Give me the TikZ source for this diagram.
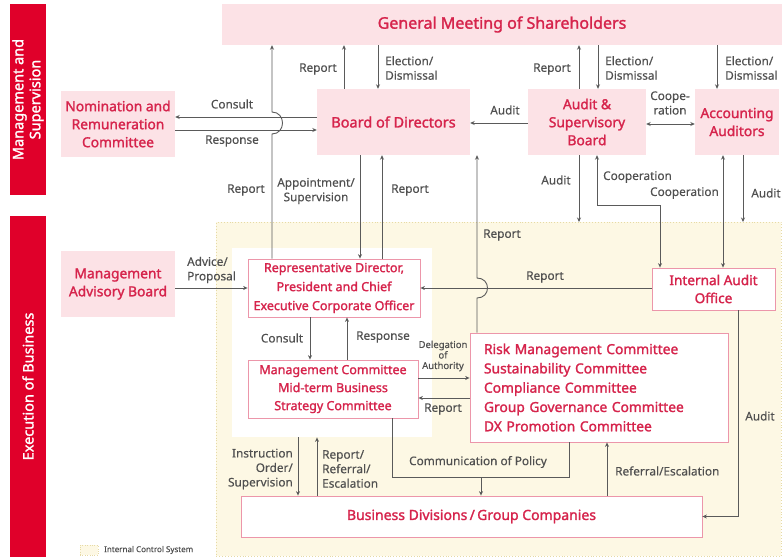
\documentclass[tikz,border=0pt]{standalone}
\usepackage{fontspec}
\setmainfont{Noto Sans}[AutoFakeBold=1.6]
\newfontfamily\lblfont{Noto Sans}[FakeBold=0.35]
\usetikzlibrary{arrows.meta}
\definecolor{barred}{RGB}{224,0,42}
\definecolor{pinkfill}{RGB}{252,226,230}
\definecolor{boxred}{RGB}{214,36,76}
\definecolor{pinkline}{RGB}{236,150,170}
\definecolor{lblgray}{RGB}{80,80,80}
\definecolor{linegray}{RGB}{90,90,90}
\definecolor{icsfill}{RGB}{253,248,228}
\definecolor{icsline}{RGB}{230,218,165}
\begin{document}
\begin{tikzpicture}[x=1pt,y=-1pt,
  bar/.style={fill=barred, text=white, font=\fontsize{14.5}{17}\selectfont\bfseries, align=center, inner sep=0pt, rotate=90},
  pinkbox/.style={fill=pinkfill, draw=none, text=boxred, font=\fontsize{13.8}{18}\selectfont\bfseries, align=center, inner sep=0pt},
  whitebox/.style={fill=white, draw=pinkline, line width=0.8pt, text=boxred, font=\fontsize{12.5}{19}\selectfont\bfseries, align=center, inner sep=0pt},
  lbl/.style={text=lblgray, font=\lblfont\fontsize{11.8}{14.5}\selectfont, inner sep=0pt, align=center},
  arr/.style={draw=linegray, line width=0.9pt, -{Stealth[length=4.5pt,width=4pt]}},
  darr/.style={draw=linegray, line width=0.9pt, {Stealth[length=4.5pt,width=4pt]}-{Stealth[length=4.5pt,width=4pt]}},
  ln/.style={draw=linegray, line width=0.9pt}]
\useasboundingbox (0,0) rectangle (782,557);
\fill[white] (0,0) rectangle (782,557);

% side bars
\node[bar, minimum width=191, minimum height=36] (barms) at (28,99.5) {Management and\\Supervision};
\node[bar, minimum width=341, minimum height=36] (bareb) at (28,386.5) {Execution of Business};

% internal control area
\node[draw=icsline, dotted, line width=0.9pt, fill=icsfill, minimum width=565, minimum height=334, inner sep=0pt, anchor=north west] (ics) at (216,222) {};
\node[fill=white, minimum width=200, minimum height=189, inner sep=0pt, anchor=north west] (wa) at (232,248) {};

% boxes
\node[pinkbox, minimum width=560, minimum height=41, font=\fontsize{16}{18}\selectfont\bfseries] (gm) at (502,24.5) {General Meeting of Shareholders};
\node[pinkbox, minimum width=114, minimum height=66] (nom) at (118,124) {Nomination and\\Remuneration\\Committee};
\node[pinkbox, minimum width=153, minimum height=66, font=\fontsize{14.5}{18}\selectfont\bfseries] (bod) at (393.5,122) {Board of Directors};
\node[pinkbox, minimum width=118, minimum height=66] (asb) at (587,122) {Audit \&\\Supervisory\\Board};
\node[pinkbox, minimum width=84, minimum height=66] (acc) at (737,122) {Accounting\\Auditors};
\node[pinkbox, minimum width=114, minimum height=66] (mab) at (118,284) {Management\\Advisory Board};

\node[whitebox, minimum width=172, minimum height=58] (rep) at (334,288) {Representative Director,\\President and Chief\\Executive Corporate Officer};
\node[whitebox, minimum width=170, minimum height=58, font=\fontsize{12.5}{18}\selectfont\bfseries] (mc) at (333,389) {Management Committee\\Mid-term Business\\Strategy Committee};
\node[whitebox, minimum height=109, text width=230pt, inner xsep=14pt, align=left, font=\fontsize{13.8}{19.3}\selectfont\bfseries] (risk) at (599,387.5) {Risk Management Committee\\Sustainability Committee\\Compliance Committee\\Group Governance Committee\\DX\,\,Promotion Committee};
\node[whitebox, minimum width=123, minimum height=42, font=\fontsize{13.6}{18}\selectfont\bfseries] (iao) at (713.5,289) {Internal Audit\\Office};
\node[whitebox, minimum width=461, minimum height=41, font=\fontsize{14}{18}\selectfont\bfseries] (bdg) at (471.5,516.5) {Business Divisions\,/\,Group Companies};

% legend
\node[fill=icsfill, draw=icsline, dotted, minimum width=18, minimum height=10, inner sep=0pt] (legsq) at (89,550) {};
\node[lbl, anchor=west, font=\lblfont\fontsize{8}{10}\selectfont] (legtx) at (104,550) {Internal Control System};

% --- connectors: top
\draw[arr] (rep.north -| 272,0) -- (272,134) .. controls (286,134) and (286,112) .. (272,112) -- (gm.south -| 272,0);
\node[lbl] (l1) at (246,190) {Report};
\draw[arr] (bod.north -| 344,0) -- (gm.south -| 344,0);
\node[lbl] (l2) at (318,69) {Report};
\draw[arr] (gm.south -| 378,0) -- (bod.north -| 378,0);
\node[lbl, anchor=west, align=left] (l3) at (385,68) {Election/\\Dismissal};

\draw[arr] (bod.west |- 0,117) -- (nom.east |- 0,117);
\node[lbl] (l4) at (232,104) {Consult};
\draw[arr] (nom.east |- 0,130) -- (bod.west |- 0,130);
\node[lbl] (l5) at (232,141) {Response};

\draw[arr] (bod.south -| 360,0) -- (rep.north -| 360,0);
\node[lbl] (l6) at (316,191) {Appointment/\\Supervision};
\draw[arr] (rep.north -| 382,0) -- (bod.south -| 382,0);
\node[lbl] (l7) at (410,190) {Report};

\draw[arr] (risk.north -| 477,0) -- (477,298) .. controls (491,298) and (491,278) .. (477,278) -- (bod.south -| 477,0);
\node[lbl] (l8) at (502,235) {Report};

\draw[arr] (asb.west |- 0,123) -- (bod.east |- 0,123);
\node[lbl] (l9) at (505,110) {Audit};
\draw[arr] (asb.north -| 579,0) -- (gm.south -| 579,0);
\node[lbl] (l10) at (552,69) {Report};
\draw[arr] (gm.south -| 598,0) -- (asb.north -| 598,0);
\node[lbl, anchor=west, align=left] (l11) at (605,68) {Election/\\Dismissal};
\draw[darr] (asb.east |- 0,124) -- (acc.west |- 0,124);
\node[lbl] (l12) at (670,103) {Coope-\\ration};
\draw[arr] (gm.south -| 717,0) -- (acc.north -| 717,0);
\node[lbl, anchor=west, align=left] (l13) at (725,68) {Election/\\Dismissal};

% audit / cooperation down
\draw[arr] (asb.south -| 579,0) -- (ics.north -| 579,0);
\node[lbl] (l14) at (556,180) {Audit};
\draw[darr] (asb.south -| 597,0) -- (597,205) -- (660,205) -- (iao.north -| 660,0);
\node[lbl, anchor=west] (l15) at (603,177) {Cooperation};
\draw[darr] (acc.south -| 723,0) -- (iao.north -| 723,0);
\node[lbl, anchor=east] (l16) at (719,193) {Cooperation};
\draw[arr] (acc.south -| 743,0) -- (ics.north -| 743,0);
\node[lbl] (l17) at (766,193) {Audit};

% execution area
\draw[arr] (iao.west |- 0,288) -- (rep.east |- 0,288);
\node[lbl] (l18) at (545,277) {Report};
\draw[arr] (mab.east |- 0,288) -- (rep.west |- 0,288);
\node[lbl, anchor=west, align=left] (l19) at (187,270) {Advice/\\Proposal};

\draw[arr] (rep.south -| 310,0) -- (mc.north -| 310,0);
\node[lbl] (l20) at (282,338) {Consult};
\draw[arr] (mc.north -| 347,0) -- (rep.south -| 347,0);
\node[lbl] (l21) at (383,337) {Response};

\draw[arr] (mc.east |- 0,378) -- (risk.west |- 0,378);
\node[lbl, font=\lblfont\fontsize{9.5}{10.5}\selectfont] (l22) at (443,356) {Delegation\\of\\Authority};
\draw[arr] (risk.west |- 0,398) -- (mc.east |- 0,398);
\node[lbl] (l23) at (443,409) {Report};

\draw[arr] (wa.south -| 298,0) -- (bdg.north -| 298,0);
\node[lbl, anchor=east, align=right] (l24) at (293,469) {Instruction\\Order/\\Supervision};
\draw[arr] (bdg.north -| 317,0) -- (wa.south -| 317,0);
\node[lbl, anchor=west, align=left] (l25) at (322,469) {Report/\\Referral/\\Escalation};

\coordinate (cp) at (481,477);
\draw[ln] (mc.south -| 392,0) |- (cp);
\draw[ln] (risk.south -| 569,0) |- (cp);
\draw[arr] (cp) -- (bdg.north -| cp);
\node[lbl] (l26) at (478,462) {Communication of Policy};

\draw[arr] (bdg.north -| 607,0) -- (risk.south -| 607,0);
\node[lbl, anchor=west] (l27) at (615,471) {Referral/Escalation};

\draw[arr] (iao.south -| 738,0) |- (bdg.east);
\node[lbl] (l28) at (760,416) {Audit};
\end{tikzpicture}
\end{document}
